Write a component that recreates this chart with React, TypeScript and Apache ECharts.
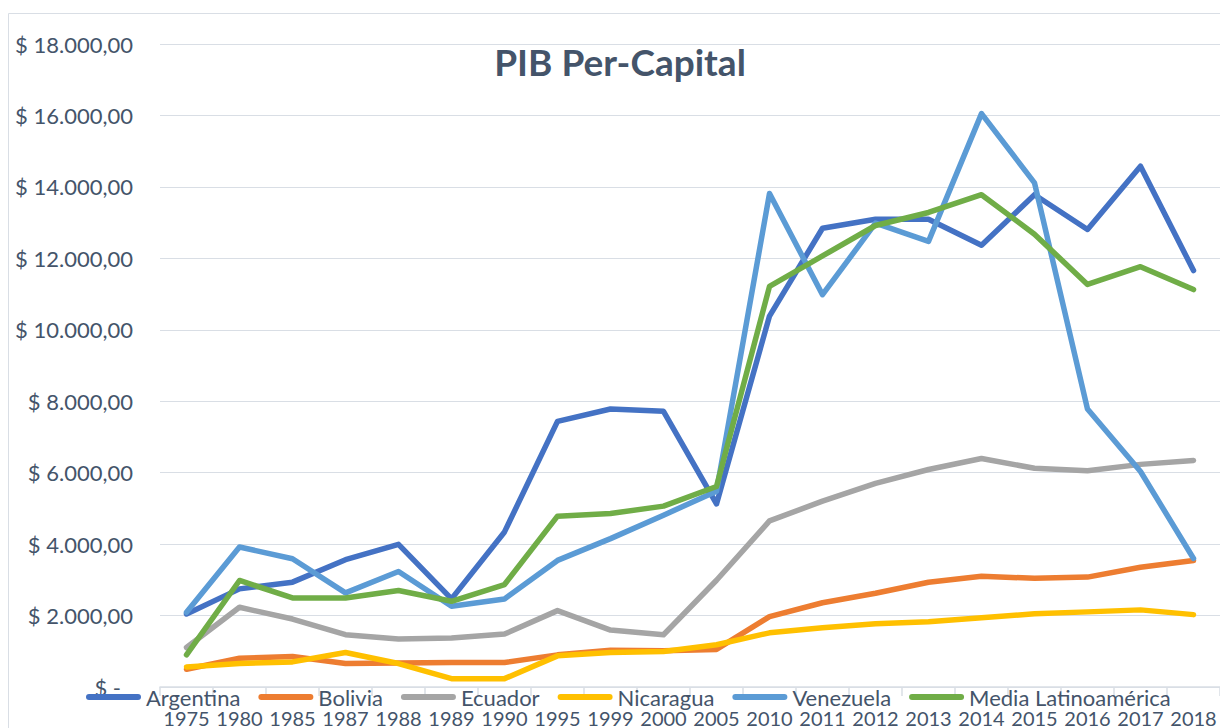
import React, { useEffect, useRef } from 'react';
import * as echarts from 'echarts';

const years = ['1975', '1980', '1985', '1987', '1988', '1989', '1990', '1995', '1999', '2000', '2005', '2010', '2011', '2012', '2013', '2014', '2015', '2016', '2017', '2018'];

const argentina = [2044, 2747, 2935, 3563, 3994, 2466, 4341, 7435, 7782, 7716, 5125, 10384, 12841, 13096, 13096, 12365, 13782, 12808, 14579, 11657];
const bolivia = [497, 806, 853, 656, 670, 684, 684, 900, 1031, 1013, 1052, 1970, 2358, 2624, 2934, 3100, 3044, 3077, 3354, 3542];
const ecuador = [1106, 2231, 1903, 1463, 1341, 1369, 1481, 2138, 1594, 1463, 2989, 4649, 5203, 5701, 6089, 6398, 6122, 6055, 6232, 6343];
const nicaragua = [563, 656, 703, 966, 656, 234, 234, 872, 966, 994, 1184, 1517, 1660, 1771, 1827, 1937, 2048, 2103, 2159, 2026];
const venezuela = [2091, 3919, 3591, 2635, 3235, 2260, 2466, 3544, 4154, 4810, 5480, 13815, 10981, 12985, 12476, 16052, 14114, 7782, 6033, 3598];
const mediaLatam = [900, 2982, 2494, 2494, 2700, 2400, 2869, 4782, 4857, 5063, 5612, 11214, 12066, 12919, 13284, 13782, 12675, 11269, 11767, 11125];

const seriesNames = ['Argentina', 'Bolivia', 'Ecuador', 'Nicaragua', 'Venezuela', 'Media Latinoamérica'];
const seriesData = [argentina, bolivia, ecuador, nicaragua, venezuela, mediaLatam];
const seriesColors = ['#4472C4', '#ED7D31', '#A5A5A5', '#FFC000', '#5B9BD5', '#70AD47'];

const TEXT = '#44546A';
const GRID = '#D9DEE5';
const FONT = 'Lato';

function fmtMoney(v: number): string {
  const s = String(Math.round(v)).replace(/\B(?=(\d{3})+(?!\d))/g, '.');
  return '$ ' + s + ',00';
}

export default function App() {
  const ref = useRef<HTMLDivElement>(null);
  useEffect(() => {
    const chart = echarts.init(ref.current!, null, { renderer: 'svg' });
    chart.setOption({
      animation: false,
      color: seriesColors,
      textStyle: { fontFamily: FONT },
      graphic: [
        {
          type: 'rect',
          z: -10,
          shape: { x: 8.5, y: 13.5, width: 1240, height: 740 },
          style: { fill: 'none', stroke: GRID, lineWidth: 1 },
        },
        {
          type: 'text',
          x: 620,
          y: 61,
          style: {
            text: 'PIB Per-Capital',
            fontFamily: FONT,
            fontSize: 37,
            fontWeight: 'bold',
            fill: TEXT,
            align: 'center',
            verticalAlign: 'middle',
          },
        },
      ],
      grid: { left: 160, top: 44, width: 1064, bottom: 41, containLabel: false },
      legend: {
        left: 86,
        top: 686,
        padding: 0,
        itemGap: 18,
        itemWidth: 55,
        itemHeight: 6,
        icon: 'path://M3,0H52A3,3,0,0,1,52,6H3A3,3,0,0,1,3,0Z',
        itemStyle: { borderWidth: 0 },
        textStyle: { fontFamily: FONT, fontSize: 22, color: TEXT },
        z: 20,
        data: seriesNames,
      },
      xAxis: {
        type: 'category',
        data: years,
        boundaryGap: true,
        axisLine: { lineStyle: { color: GRID, width: 1.5 } },
        axisTick: { show: true, length: 9, lineStyle: { color: GRID, width: 1.5 } },
        axisLabel: { fontFamily: FONT, fontSize: 20, color: TEXT, margin: 21, interval: 0 },
        splitLine: { show: false },
      },
      yAxis: {
        type: 'value',
        min: 0,
        max: 18000,
        interval: 2000,
        axisLine: { show: false },
        axisTick: { show: false },
        splitLine: { lineStyle: { color: GRID, width: 1.2 } },
        axisLabel: {
          fontFamily: FONT,
          fontSize: 22,
          color: TEXT,
          margin: 27,
          align: 'right',
          formatter: (v: number) => (v === 0 ? '{z|$ -}' : fmtMoney(v)),
          rich: {
            z: { fontFamily: FONT, fontSize: 22, color: TEXT, padding: [0, 12, 0, 0] },
          },
        },
      },
      series: seriesNames.map((name, i) => ({
        name,
        type: 'line',
        data: seriesData[i],
        symbol: 'none',
        smooth: false,
        lineStyle: { width: 5.5, cap: 'round', join: 'round', color: seriesColors[i] },
        itemStyle: { color: seriesColors[i] },
        z: 2 + i,
      })),
    });
    return () => chart.dispose();
  }, []);
  return (
    <div
      ref={ref}
      style={{ position: 'absolute', left: 0, top: 0, width: 1220, height: 728, background: '#ffffff' }}
    />
  );
}
